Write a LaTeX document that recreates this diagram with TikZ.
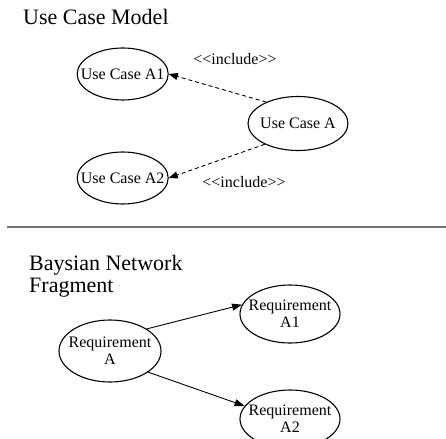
\documentclass[tikz,border=0pt]{standalone}
\usepackage{fontspec}
\setmainfont{Liberation Serif}
\usetikzlibrary{arrows.meta,shapes.geometric}
\begin{document}
\begin{tikzpicture}[x=1pt,y=1pt,
  uc/.style={ellipse,draw=black,line width=1.1pt,inner sep=0pt},
  ntext/.style={inner sep=0pt,align=center,text=black,font=\fontsize{16}{17}\selectfont},
  titletext/.style={anchor=base west,inner sep=0pt,font=\fontsize{22}{24}\selectfont},
  lbl/.style={inner sep=0pt,font=\fontsize{16}{18}\selectfont},
  incl/.style={draw=black,dash pattern=on 4pt off 3pt,line width=0.9pt,-{Triangle[length=9pt,width=7pt]}},
  dep/.style={draw=black,line width=0.9pt,-{Triangle[length=10pt,width=7pt]}},
  sep/.style={draw,line width=1.5pt,color=black!55}
]
\useasboundingbox (0,-438) rectangle (446,0);
\fill[white] (0,-438) rectangle (446,0);

% Use case model
\node[titletext] (t1) at (23,-24.5) {Use Case Model};
\node[uc,minimum width=91pt,minimum height=52pt] (A1) at (122.7,-74) {};
\node[ntext] (A1t) at (A1) {Use Case A1};
\node[uc,minimum width=91pt,minimum height=52pt] (A2) at (122.7,-178) {};
\node[ntext] (A2t) at (A2) {Use Case A2};
\node[uc,minimum width=100pt,minimum height=54pt] (A) at (298,-123.5) {};
\node[ntext] (At) at (A) {Use Case A};
\node[lbl] (i1) at (235,-59.5) {{<}{<}include{>}{>}};
\node[lbl] (i2) at (244,-182) {{<}{<}include{>}{>}};
\draw[incl] (A.146) -- (A1.east);
\draw[incl] (A.212) -- (A2.east);

% separator
\coordinate (l1) at (7,-227);
\coordinate (l2) at (446,-227);
\draw[sep] (l1) -- (l2);

% Bayesian network fragment
\node[titletext] (t2) at (29,-270) {Baysian Network};
\node[titletext] (t3) at (29,-292.7) {Fragment};
\node[uc,minimum width=102pt,minimum height=62pt] (RA) at (110,-351) {};
\node[ntext] (RAt) at (RA) {Requirement\\A};
\node[uc,minimum width=100pt,minimum height=58pt] (RA1) at (290,-314) {};
\node[ntext] (RA1t) at (RA1) {Requirement\\A1};
\node[uc,minimum width=100pt,minimum height=58pt] (RA2) at (290,-419) {};
\node[ntext] (RA2t) at (RA2) {Requirement\\A2};
\draw[dep] (RA.31) -- (RA1.169);
\draw[dep] (RA.-29) -- (RA2.164);
\end{tikzpicture}
\end{document}
